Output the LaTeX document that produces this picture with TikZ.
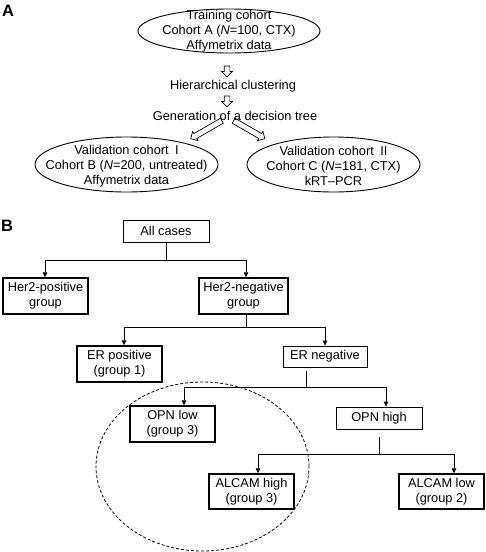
\documentclass[tikz,border=0pt]{standalone}
\usepackage{fontspec}
\setmainfont{Liberation Sans}
\usetikzlibrary{shapes.geometric,shapes.arrows,arrows.meta}
\begin{document}
\begin{tikzpicture}[x=1pt,y=-1pt,
  every node/.style={font=\fontsize{12.8}{15}\selectfont, inner sep=0pt},
  cohort/.style={draw, line width=0.9pt, ellipse},
  hollow/.style={single arrow, draw, line width=0.7pt, minimum width=10pt, single arrow head extend=2.5pt, inner sep=2.5pt, single arrow tip angle=90},
  plainbox/.style={draw, line width=0.8pt, align=center, minimum width=85pt, minimum height=22pt},
  groupbox/.style={draw, line width=1.5pt, align=center, minimum width=85pt, minimum height=36pt},
  conn/.style={line width=0.8pt},
  arr/.style={line width=0.8pt, -{Triangle[length=5pt,width=4.5pt]}},
  panel/.style={font=\fontsize{16.5}{18}\selectfont\bfseries}
]
\useasboundingbox (0,0) rectangle (486,552);

% Panel A
\node[panel] (la) at (8,11) {A};
\node[cohort, minimum width=182pt, minimum height=44pt] (train) at (229,31) {};
\node[align=center] (traint) at (train.center)
  {Training cohort\\Cohort A (\emph{N}=100, CTX)\\Affymetrix data};
\node[hollow, minimum height=11pt, rotate=-90] (ar1) at (227,70) {};
\node (hier) at (233,86) {Hierarchical clustering};
\node[hollow, minimum height=11pt, rotate=-90] (ar2) at (227,100) {};
\node (gen) at (235,116) {Generation of a decision tree};
\node[hollow, minimum height=36pt, rotate=210] (ar3) at (207.5,129) {};
\node[hollow, minimum height=36pt, rotate=-30] (ar4) at (248,129) {};
\node[cohort, minimum width=183pt, minimum height=55pt] (valb) at (126.5,164.5) {};
\node[align=center] (valbt) at ([yshift=-1.5pt]valb.center)
  {Validation cohort\enspace I\\Cohort B (\emph{N}=200, untreated)\\Affymetrix data};
\node[cohort, minimum width=173pt, minimum height=55pt] (valc) at (333.5,164.5) {};
\node[align=center] (valct) at ([yshift=-1.5pt]valc.center)
  {Validation cohort\enspace II\\Cohort C (\emph{N}=181, CTX)\\kRT\textendash PCR};

% Panel B
\node[panel] (lb) at (7,226) {B};
\node[plainbox, minimum width=86pt] (allc) at (166,231) {All cases};
\node[groupbox] (h2p) at (45.5,296) {Her2-positive\\group};
\node[groupbox, minimum width=89pt] (h2n) at (243.5,296) {Her2-negative\\group};
\node[groupbox] (erp) at (119.5,364) {ER positive\\(group 1)};
\node[plainbox, minimum width=84pt, minimum height=21pt] (ern) at (325,356.5) {ER negative};
\node[groupbox] (opnl) at (172.5,424) {OPN low\\(group 3)};
\node[plainbox, minimum width=86pt] (opnh) at (379,418) {OPN high};
\node[groupbox, minimum height=35pt] (alh) at (251.5,491.5) {ALCAM high\\(group 3)};
\node[groupbox, minimum height=35pt] (all) at (441.5,491.5) {ALCAM low\\(group 2)};

\node[draw, ellipse, line width=0.8pt, dash pattern=on 3pt off 2pt,
  minimum width=213pt, minimum height=169pt] (circ) at (202.5,466.5) {};

% tree connectors
\coordinate (j1) at (166,260);
\draw[conn] (allc.south) -- (j1);
\draw[arr] (j1) -| ([xshift=-0.5pt]h2p.north);
\draw[arr] (j1) -| ([xshift=2.5pt]h2n.north);

\coordinate (j2) at (246,327);
\draw[conn] ([xshift=2.5pt]h2n.south) -- (j2);
\draw[arr] (j2) -| ([xshift=4.5pt]erp.north);
\draw[arr] (j2) -| (ern.north);

\coordinate (s3) at (306,371);
\coordinate (j3) at (306,387);
\draw[conn] (s3) -- (j3);
\draw[arr] (j3) -| ([xshift=11.5pt]opnl.north);
\draw[arr] (j3) -| ([xshift=7pt]opnh.north);

\coordinate (s4) at (379,437);
\coordinate (j4) at (379,454);
\draw[conn] (s4) -- (j4);
\draw[arr] (j4) -| ([xshift=6.5pt]alh.north);
\draw[arr] (j4) -| ([xshift=12.5pt]all.north);
\end{tikzpicture}
\end{document}
